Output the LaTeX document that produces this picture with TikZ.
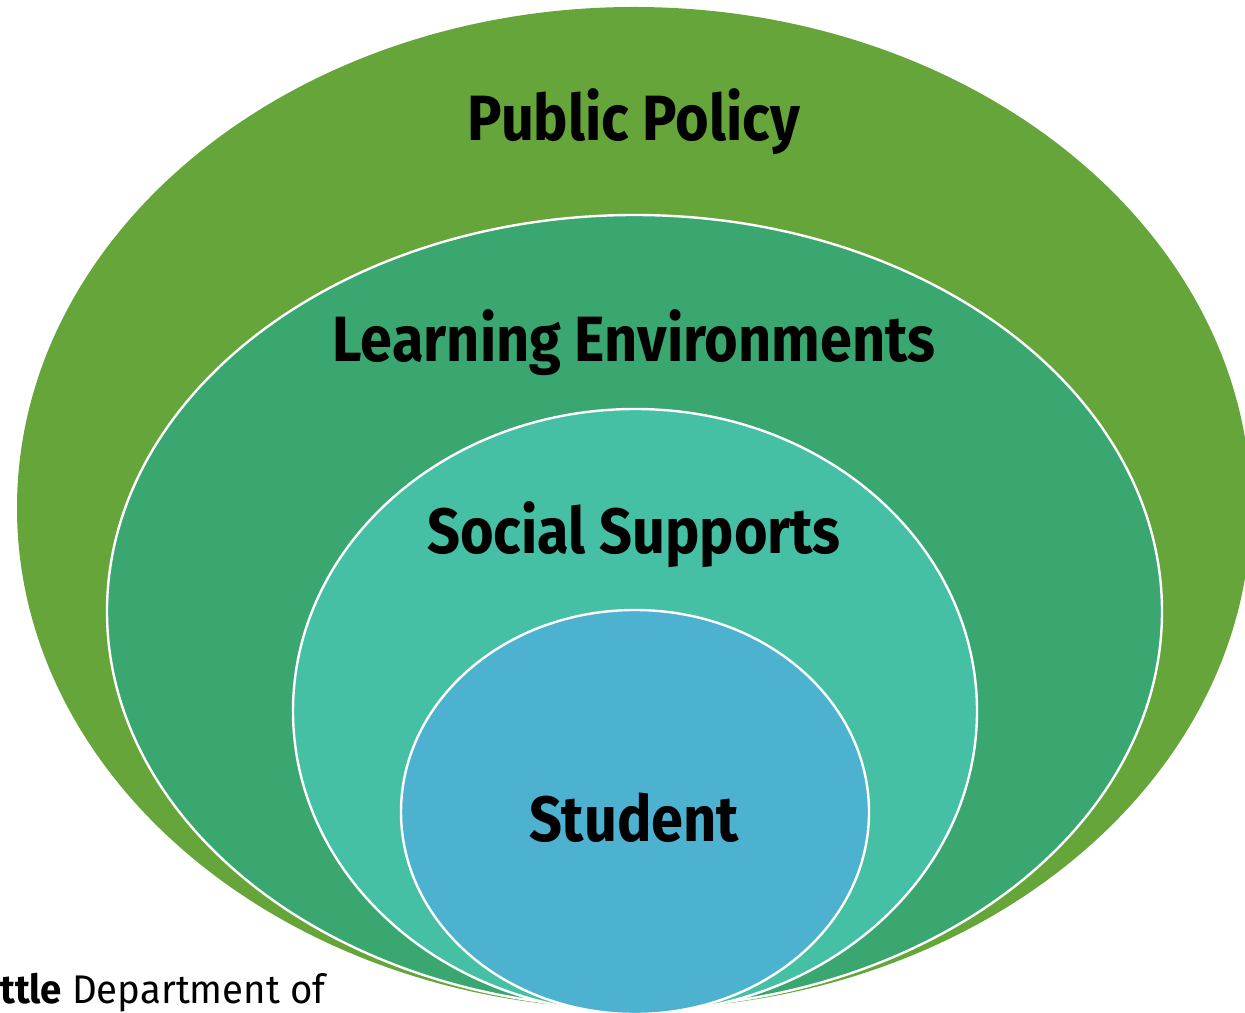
\documentclass[tikz,border=0pt]{standalone}
\usepackage{fontspec}
\setmainfont{Fira Sans}
\newfontfamily\labelfont[FakeStretch=0.9]{Fira Sans}
\newfontfamily\footfont[FakeStretch=0.96]{Fira Sans}
\definecolor{policygreen}{HTML}{65A539}
\definecolor{learngreen}{HTML}{39A76F}
\definecolor{socialteal}{HTML}{45C0A4}
\definecolor{studentblue}{HTML}{4DB2CF}
\tikzset{
  ring/.style={draw=white, line width=1.2pt},
  ringlabel/.style={font=\labelfont\bfseries\fontsize{32}{36}\selectfont, inner sep=0pt}
}

\begin{document}
\begin{tikzpicture}[x=0.5pt,y=0.5pt]
            \useasboundingbox (0,0) rectangle (1245,1012);
            \clip (0,0) rectangle (1245,1012);

            % Draw rings, outside in
            \fill[policygreen] (634,504) ellipse [x radius=617, y radius=501];
            \filldraw[ring, fill=learngreen] (634.5,400.5) ellipse [x radius=527.5, y radius=396.5];
            \filldraw[ring, fill=socialteal] (635,301) ellipse [x radius=342, y radius=302];
            \filldraw[ring, fill=studentblue] (635,200) ellipse [x radius=234, y radius=202];

            % Draw labels
            \node[ringlabel] (policy) at (634,890) {Public Policy};
            \node[ringlabel] (learning) at (634,669) {Learning Environments};
            \node[ringlabel] (social) at (634,477) {Social Supports};
            \node[ringlabel] (student) at (634,194) {Student};

            % Draw cut footer text
            \node[anchor=base west, inner sep=0pt, font=\footfont\fontsize{20}{24}\selectfont] (dept) at (0,9) {\textbf{ttle} Department of};
        \end{tikzpicture}
\end{document}
